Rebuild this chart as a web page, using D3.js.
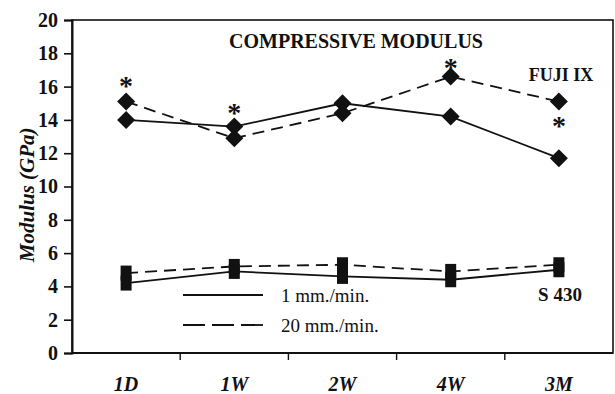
<!DOCTYPE html>
<html>
<head>
<meta charset="utf-8">
<script src="https://cdn.jsdelivr.net/npm/d3@7"></script>
<style>
  body { margin: 0; background: #fff; }
  svg { display: block; font-family: "Liberation Serif", "Times New Roman", serif; }
</style>
</head>
<body>
<div id="plot-container"></div>
<script>
// data
var categories = ['1D', '1W', '2W', '4W', '3M'];
var yTicks = [0, 2, 4, 6, 8, 10, 12, 14, 16, 18, 20];
var fujiSlow = [14.0, 13.6, 15.0, 14.2, 11.7];   // 1 mm./min.
var fujiFast = [15.1, 12.9, 14.4, 16.6, 15.1];   // 20 mm./min.
var s430Slow = [4.2, 4.9, 4.6, 4.4, 5.0];
var s430Fast = [4.8, 5.2, 5.3, 4.9, 5.3];
var starCats = ['1D', '1W', '4W', '3M'];
var starVals = [16.4, 14.8, 17.5, 14.0];

var width = 615, height = 394;
var margin = {top: 20, right: 2, bottom: 41, left: 72};

var svg = d3.select('#plot-container').append('svg')
    .attr('width', width)
    .attr('height', height);

var x = d3.scaleBand().domain(categories).range([margin.left, width - margin.right]).padding(0);
var y = d3.scaleLinear().domain([0, 20]).range([height - margin.bottom, margin.top]);
var cx = function (c) { return x(c) + x.bandwidth() / 2; };

// frame
svg.append('rect')
    .attr('x', margin.left).attr('y', margin.top)
    .attr('width', width - margin.right - margin.left)
    .attr('height', height - margin.bottom - margin.top)
    .attr('fill', 'none').attr('stroke', '#111').attr('stroke-width', 1.6);

// y axis
var yAxis = svg.append('g')
    .attr('transform', 'translate(' + margin.left + ',0)')
    .call(d3.axisLeft(y).tickValues(yTicks).tickSize(8).tickPadding(6));
yAxis.select('.domain').attr('stroke', '#111').attr('stroke-width', 2);
yAxis.selectAll('line').attr('stroke', '#111').attr('stroke-width', 1.6);
yAxis.selectAll('text')
    .attr('fill', '#111')
    .style('font-size', '20px').style('font-weight', 'bold')
    .style('font-family', '"Liberation Serif", serif');

// x axis: ticks sit on band boundaries
var bounds = categories.map(function (c) { return x(c); }).concat([width - margin.right]);
svg.append('line')
    .attr('x1', margin.left).attr('x2', width - margin.right)
    .attr('y1', y(0)).attr('y2', y(0))
    .attr('stroke', '#111').attr('stroke-width', 2);
svg.selectAll('.xtick').data(bounds.slice(1, -1)).enter().append('line')
    .attr('x1', function (d) { return d; }).attr('x2', function (d) { return d; })
    .attr('y1', y(0)).attr('y2', y(0) + 7)
    .attr('stroke', '#111').attr('stroke-width', 1.4);
svg.selectAll('.xlab').data(categories).enter().append('text')
    .attr('x', function (d) { return cx(d); })
    .attr('y', y(0) + 38)
    .attr('text-anchor', 'middle')
    .style('font-size', '20px').style('font-weight', 'bold').style('font-style', 'italic')
    .attr('fill', '#111')
    .text(function (d) { return d; });

// axis title
svg.append('text')
    .attr('transform', 'translate(34,' + y(9.5) + ') rotate(-90)')
    .attr('text-anchor', 'middle')
    .style('font-size', '21px').style('font-weight', 'bold').style('font-style', 'italic')
    .attr('fill', '#111')
    .text('Modulus (GPa)');

var line = d3.line()
    .x(function (d, i) { return cx(categories[i]); })
    .y(function (d) { return y(d); });

function drawSeries(vals, dashed) {
    svg.append('path')
        .datum(vals)
        .attr('d', line)
        .attr('fill', 'none')
        .attr('stroke', '#111')
        .attr('stroke-width', 1.8)
        .attr('stroke-dasharray', dashed ? '12,7' : null);
}
drawSeries(fujiSlow, false);
drawSeries(fujiFast, true);
drawSeries(s430Slow, false);
drawSeries(s430Fast, true);

// diamonds
var diamond = 'M0,-9L9,0L0,9L-9,0Z';
[fujiSlow, fujiFast].forEach(function (vals) {
    svg.selectAll(null).data(vals).enter().append('path')
        .attr('d', diamond)
        .attr('transform', function (d, i) { return 'translate(' + cx(categories[i]) + ',' + y(d) + ')'; })
        .attr('fill', '#111');
});
// squares
[s430Slow, s430Fast].forEach(function (vals) {
    svg.selectAll(null).data(vals).enter().append('rect')
        .attr('x', function (d, i) { return cx(categories[i]) - 5.5; })
        .attr('y', function (d) { return y(d) - 7.5; })
        .attr('width', 11).attr('height', 15)
        .attr('fill', '#111');
});

// significance stars
svg.selectAll('.star').data(starCats).enter().append('text')
    .attr('x', function (d) { return cx(d); })
    .attr('y', function (d, i) { return y(starVals[i]) + 15; })
    .attr('text-anchor', 'middle')
    .style('font-size', '28px').style('font-weight', 'bold')
    .attr('fill', '#111')
    .text('*');

// labels
svg.append('text')
    .attr('x', 356).attr('y', 48)
    .attr('text-anchor', 'middle')
    .style('font-size', '20px').style('font-weight', 'bold')
    .attr('fill', '#111')
    .text('COMPRESSIVE MODULUS');
svg.append('text')
    .attr('x', 561).attr('y', 81)
    .attr('text-anchor', 'middle')
    .style('font-size', '18px').style('font-weight', 'bold')
    .attr('fill', '#111')
    .text('FUJI IX');
svg.append('text')
    .attr('x', 560).attr('y', 301)
    .attr('text-anchor', 'middle')
    .style('font-size', '19px').style('font-weight', 'bold')
    .attr('fill', '#111')
    .text('S 430');

// legend
var legend = [{label: '1 mm./min.', dash: null, ly: 295}, {label: '20 mm./min.', dash: '22,7', ly: 325}];
legend.forEach(function (d) {
    svg.append('line')
        .attr('x1', 183).attr('x2', 263).attr('y1', d.ly).attr('y2', d.ly)
        .attr('stroke', '#111').attr('stroke-width', 1.8)
        .attr('stroke-dasharray', d.dash);
    svg.append('text')
        .attr('x', 281).attr('y', d.ly + 7)
        .style('font-size', '19px')
        .attr('fill', '#111')
        .text(d.label);
});
</script>
</body>
</html>
